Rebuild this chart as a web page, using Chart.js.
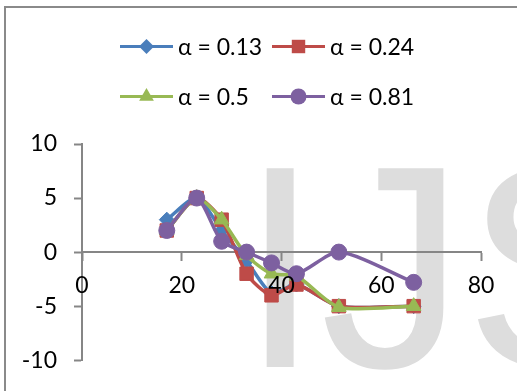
<!DOCTYPE html>
<html>
<head>
<meta charset="utf-8">
<script src="https://cdn.jsdelivr.net/npm/chart.js@4/dist/chart.umd.min.js"></script>
<style>
  html, body { margin: 0; padding: 0; background: #ffffff; }
  #wrap { position: relative; width: 517px; height: 391px; }
  canvas { display: block; }
</style>
</head>
<body>
<div id="wrap"><canvas id="chart" width="517" height="391"></canvas></div>
<script>
// Measurements per alpha value
const xValues = [17, 23, 28, 33, 38, 43, 51.5, 66.5];
const alpha013 = [3, 5, 2, -0.8, -3.8, -3, -5, -5];
const alpha024 = [2, 5, 3, -2, -4, -3, -5, -5];
const alpha05  = [2, 5, 3, -0.3, -2, -2.2, -5.1, -5];
const alpha081 = [2, 5, 1, 0, -1, -2, 0, -2.8];
const seriesLabels = ['α = 0.13', 'α = 0.24', 'α = 0.5', 'α = 0.81'];
const xTicks = [0, 20, 40, 60, 80];
const yTicks = [-10, -5, 0, 5, 10];

const FONT = 'Lato, "Open Sans", sans-serif';
const FONT_SIZE = 23;
const AXIS_GRAY = '#868686';

const styles = [
  { color: '#4a7ebb', point: 'rectRot',  radius: 7.5 },
  { color: '#be4b48', point: 'rect',     radius: 9.5 },
  { color: '#98b954', point: 'triangle', radius: 8.5 },
  { color: '#7d60a0', point: 'circle',   radius: 8 }
];

const toPoints = ys => ys.map((y, i) => ({ x: xValues[i], y }));
const seriesValues = [alpha013, alpha024, alpha05, alpha081];

const datasets = seriesValues.map((ys, i) => ({
  label: seriesLabels[i],
  data: toPoints(ys),
  borderColor: styles[i].color,
  backgroundColor: styles[i].color,
  borderWidth: 3.5,
  tension: 0.25,
  pointStyle: styles[i].point,
  pointRadius: styles[i].radius,
  pointHoverRadius: styles[i].radius,
  pointBackgroundColor: styles[i].color,
  pointBorderColor: styles[i].color,
  pointBorderWidth: 1,
  order: seriesValues.length - i
}));

// Small marker painter for the legend swatches
function drawMarker(ctx, style, r, x, y) {
  ctx.beginPath();
  if (style === 'circle') {
    ctx.arc(x, y, r, 0, Math.PI * 2);
  } else if (style === 'rect') {
    const s = Math.SQRT1_2 * r;
    ctx.rect(x - s, y - s, 2 * s, 2 * s);
  } else if (style === 'rectRot') {
    ctx.moveTo(x, y - r); ctx.lineTo(x + r, y); ctx.lineTo(x, y + r); ctx.lineTo(x - r, y);
    ctx.closePath();
  } else if (style === 'triangle') {
    ctx.moveTo(x, y - r);
    ctx.lineTo(x + r * Math.sin(Math.PI / 3), y + r * 0.5);
    ctx.lineTo(x - r * Math.sin(Math.PI / 3), y + r * 0.5);
    ctx.closePath();
  }
  ctx.fill();
}

const backdrop = {
  id: 'backdrop',
  beforeDraw(chart) {
    const ctx = chart.ctx;
    ctx.save();
    // faint lettering behind the plot
    ctx.fillStyle = '#dddddd';
    ctx.font = '289px "Liberation Sans", Arial, sans-serif';
    ctx.textBaseline = 'alphabetic';
    ctx.textAlign = 'left';
    ctx.fillText('IJS', 240, 367);
    // outer frame
    ctx.strokeStyle = '#8a8a8a';
    ctx.lineWidth = 2;
    ctx.beginPath();
    ctx.moveTo(5, 391);
    ctx.lineTo(5, 7);
    ctx.lineTo(517, 7);
    ctx.stroke();
    ctx.restore();
  }
};

// X labels sit a fixed distance below the crossing axis line
const xAxisLabels = {
  id: 'xAxisLabels',
  afterDraw(chart) {
    const ctx = chart.ctx;
    const xs = chart.scales.x;
    const axisY = chart.scales.y.getPixelForValue(0);
    ctx.save();
    ctx.fillStyle = '#000000';
    ctx.font = FONT_SIZE + 'px ' + FONT;
    ctx.textAlign = 'center';
    ctx.textBaseline = 'middle';
    xs.ticks.forEach(t => {
      ctx.fillText(String(t.value), xs.getPixelForValue(t.value), axisY + 33);
    });
    ctx.restore();
  }
};

const lineLegend = {
  id: 'lineLegend',
  afterDraw(chart) {
    const ctx = chart.ctx;
    const colX = [120, 272];
    const rowY = [46.5, 96.5];
    ctx.save();
    chart.data.datasets.forEach((ds, i) => {
      const x0 = colX[i % 2];
      const y = rowY[Math.floor(i / 2)];
      const st = styles[i];
      ctx.strokeStyle = st.color;
      ctx.fillStyle = st.color;
      ctx.lineWidth = 3;
      ctx.beginPath();
      ctx.moveTo(x0, y);
      ctx.lineTo(x0 + 53, y);
      ctx.stroke();
      drawMarker(ctx, st.point, st.radius, x0 + 26.5, y);
      ctx.fillStyle = '#000000';
      ctx.font = FONT_SIZE + 'px ' + FONT;
      ctx.textBaseline = 'alphabetic';
      ctx.textAlign = 'left';
      ctx.fillText(ds.label, x0 + 58, y + 8);
    });
    ctx.restore();
  }
};

new Chart(document.getElementById('chart'), {
  type: 'line',
  data: { datasets },
  plugins: [backdrop, xAxisLabels, lineLegend],
  options: {
    responsive: false,
    animation: false,
    devicePixelRatio: 1,
    layout: { padding: { top: 144, right: 36, bottom: 27, left: 0 } },
    plugins: {
      legend: { display: false },
      tooltip: { enabled: false },
      title: { display: false }
    },
    scales: {
      x: {
        type: 'linear',
        position: { y: 0 },
        min: xTicks[0],
        max: xTicks[xTicks.length - 1],
        ticks: {
          stepSize: xTicks[1] - xTicks[0],
          display: false
        },
        grid: {
          drawOnChartArea: false,
          drawTicks: true,
          tickLength: 8,
          tickColor: AXIS_GRAY,
          tickWidth: 2
        },
        border: { display: true, color: AXIS_GRAY, width: 2 }
      },
      y: {
        type: 'linear',
        min: yTicks[0],
        max: yTicks[yTicks.length - 1],
        afterFit(scale) { scale.width = 82; },
        ticks: {
          stepSize: yTicks[1] - yTicks[0],
          color: '#000000',
          font: { family: FONT, size: FONT_SIZE },
          padding: 17
        },
        grid: {
          drawOnChartArea: false,
          drawTicks: true,
          tickLength: 8,
          tickColor: AXIS_GRAY,
          tickWidth: 2
        },
        border: { display: true, color: AXIS_GRAY, width: 2 }
      }
    }
  }
});
</script>
</body>
</html>
